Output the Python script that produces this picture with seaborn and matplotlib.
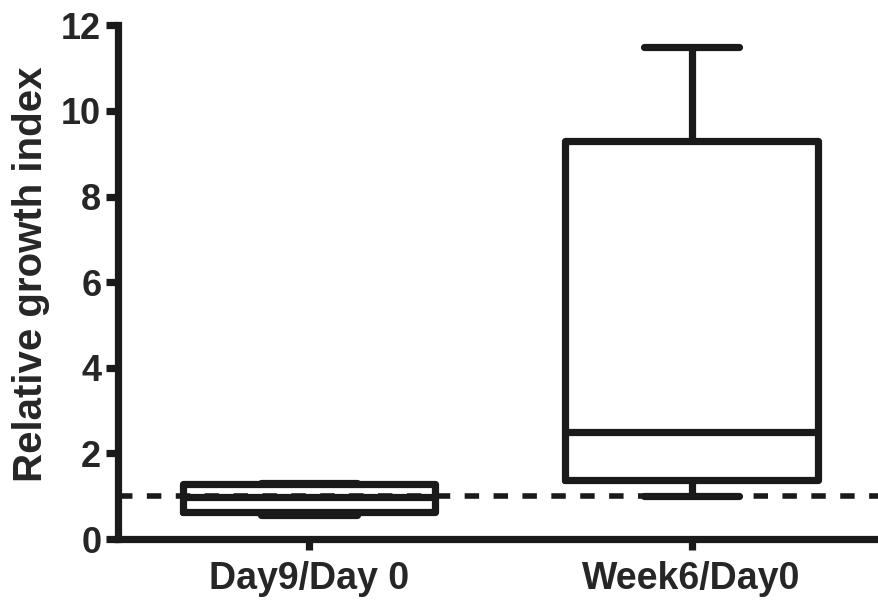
import matplotlib
matplotlib.use("Agg")
import matplotlib.pyplot as plt
import seaborn as sns
import pandas as pd
import numpy as np

# Data: five-number summaries (min, Q1, median, Q3, max)
categories = ["Day9/Day 0", "Week6/Day0"]
day9_values = [0.56, 0.63, 0.98, 1.28, 1.32]
week6_values = [1.01, 1.38, 2.50, 9.29, 11.50]
reference_level = 1.0
y_ticks = [0, 2, 4, 6, 8, 10, 12]

df = pd.DataFrame({
    "group": [categories[0]] * len(day9_values) + [categories[1]] * len(week6_values),
    "value": day9_values + week6_values,
})

sns.set_style("ticks")
plt.rcParams["font.family"] = ["Liberation Sans", "DejaVu Sans"]
plt.rcParams["font.weight"] = "bold"

fig = plt.figure(figsize=(8.79, 6.03), dpi=100)
ax = fig.add_axes([0.1342, 0.1061, 0.8658, 0.852])

ax.axhline(reference_level, color="#1a1a1a", lw=4.0, ls=(0, (2.6, 2.6)), zorder=1)

n_before = len(ax.lines)
sns.boxplot(data=df, x="group", y="value", order=categories, whis=(0, 100),
            width=0.66, fill=False, color="#1a1a1a", linewidth=5.2, ax=ax,
            showfliers=False, zorder=3)

# narrow the whisker caps to match the reference
for line in ax.lines[n_before:]:
    xd = np.asarray(line.get_xdata(), dtype=float)
    yd = np.asarray(line.get_ydata(), dtype=float)
    if len(xd) == 2 and np.isclose(yd[0], yd[1]):
        ext = abs(xd[1] - xd[0])
        if 0 < ext < 0.5:
            c = xd.mean()
            line.set_xdata([c - 0.125, c + 0.125])

ax.set_xlim(-0.50, 1.49)
ax.set_ylim(0, 12)
ax.set_yticks(y_ticks)
ax.set_yticklabels([str(t) for t in y_ticks], fontsize=26, fontweight="bold")
ax.set_xticks([0, 1])
ax.set_xticklabels(categories, fontsize=27, fontweight="bold")
ax.set_xlabel("")
ax.set_ylabel("Relative growth index", fontsize=29, fontweight="bold", labelpad=8)
ax.yaxis.label.set_y(0.5146)

for s in ["top", "right"]:
    ax.spines[s].set_visible(False)
for s in ["left", "bottom"]:
    ax.spines[s].set_linewidth(5.2)
    ax.spines[s].set_color("#1a1a1a")
    ax.spines[s].set_capstyle("projecting")
ax.tick_params(axis="y", length=9, width=5.2, color="#1a1a1a", pad=3)
ax.tick_params(axis="x", length=8, width=5.2, color="#1a1a1a", pad=8)
for line in ax.lines:
    line.set_clip_on(False)

fig.savefig("out.png", dpi=100)
